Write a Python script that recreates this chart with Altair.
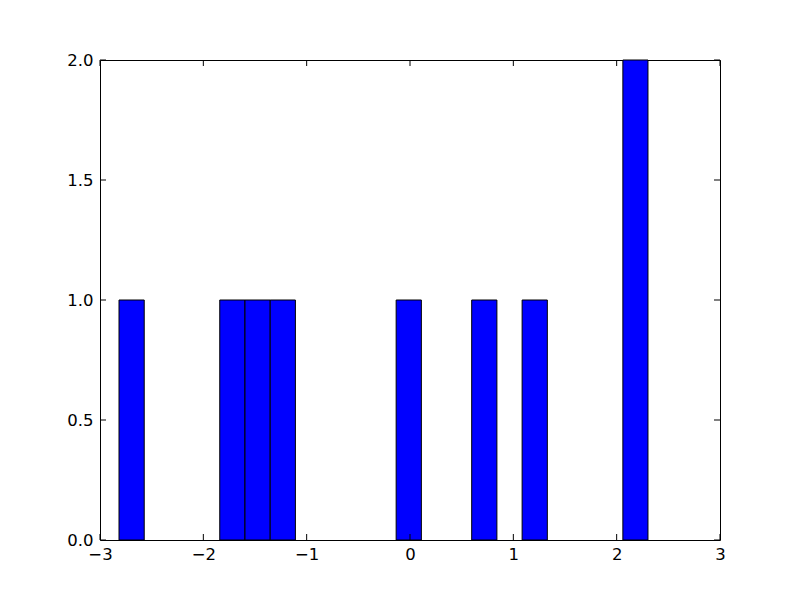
import altair as alt
import pandas as pd

# histogram bins (left edge, right edge, count)
bin_start = [-2.816, -1.841, -1.597, -1.353, -0.134, 0.597, 1.085, 2.060]
bin_end = [-2.572, -1.597, -1.353, -1.109, 0.110, 0.841, 1.329, 2.303]
counts = [1, 1, 1, 1, 1, 1, 1, 2]

x_ticks = [-3, -2, -1, 0, 1, 2, 3]
y_ticks = [0.0, 0.5, 1.0, 1.5, 2.0]

bars_df = pd.DataFrame({"lo": bin_start, "hi": bin_end, "count": counts})
xt_df = pd.DataFrame({"lo": x_ticks})
yt_df = pd.DataFrame({"count": y_ticks})

W, H = 620, 480
FONT = "DejaVu Sans"
FS = 16.5

xscale = alt.Scale(domain=[-3, 3], nice=False, zero=False)
yscale = alt.Scale(domain=[0, 2], nice=False)

xaxis = alt.Axis(values=x_ticks, format="d", tickSize=0, ticks=False, domain=False,
                 grid=False, labelPadding=6, labelFont=FONT,
                 labelFontSize=FS, labelColor="black", labelFlush=False)
yaxis = alt.Axis(values=y_ticks, format=".1f", tickSize=0, ticks=False, domain=False,
                 grid=False, labelPadding=7, labelFont=FONT,
                 labelFontSize=FS, labelColor="black", labelFlush=False)

bars = alt.Chart(bars_df).mark_bar(
    fill="#0000ff", stroke="black", strokeWidth=1, opacity=1
).encode(
    x=alt.X("lo:Q", scale=xscale, title=None, axis=xaxis),
    x2="hi:Q",
    y=alt.Y("count:Q", scale=yscale, title=None, axis=yaxis),
    y2=alt.datum(0),
)

tick_len = 6
xb = alt.Chart(xt_df).mark_rule(color="black", strokeWidth=1).encode(
    x=alt.X("lo:Q", scale=xscale, title=None, axis=xaxis),
    y=alt.value(H), y2=alt.value(H - tick_len))
xtop = alt.Chart(xt_df).mark_rule(color="black", strokeWidth=1).encode(
    x=alt.X("lo:Q", scale=xscale, title=None, axis=xaxis),
    y=alt.value(0), y2=alt.value(tick_len))
yl = alt.Chart(yt_df).mark_rule(color="black", strokeWidth=1).encode(
    y=alt.Y("count:Q", scale=yscale, title=None, axis=yaxis),
    x=alt.value(0), x2=alt.value(tick_len))
yr = alt.Chart(yt_df).mark_rule(color="black", strokeWidth=1).encode(
    y=alt.Y("count:Q", scale=yscale, title=None, axis=yaxis),
    x=alt.value(W), x2=alt.value(W - tick_len))

chart = alt.layer(bars, xb, xtop, yl, yr).properties(
    width=W, height=H,
    autosize=alt.AutoSizeParams(type="none"),
    padding={"left": 92, "top": 52, "right": 72, "bottom": 52},
    background="white",
).configure_view(stroke="black", strokeWidth=1)

chart.save("out.html", embed_options={"renderer": "svg", "actions": False})
